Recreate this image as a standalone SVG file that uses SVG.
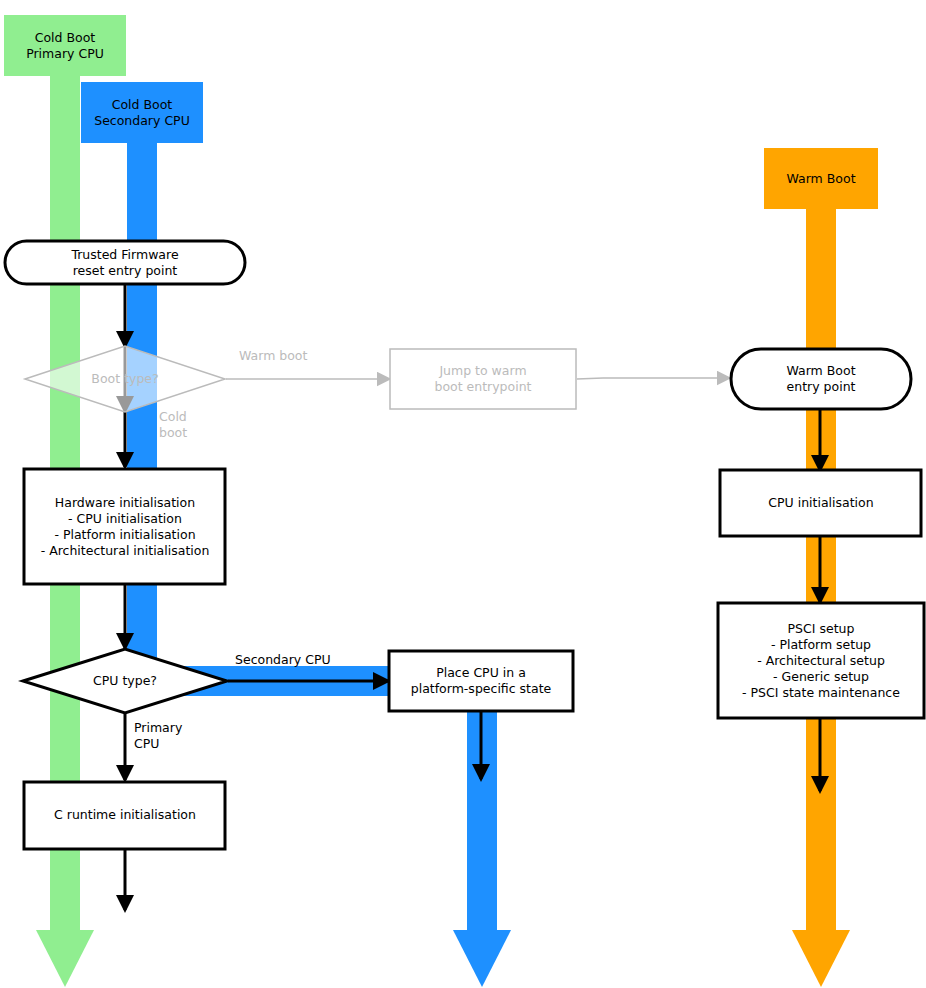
<svg xmlns="http://www.w3.org/2000/svg" width="926" height="988" viewBox="0 0 926 988">
<defs>
<marker id="ah" markerWidth="6" markerHeight="6" refX="5" refY="3" orient="auto" markerUnits="strokeWidth"><path d="M0,0 L6,3 L0,6 z" fill="#000"/></marker>
<marker id="ahg" markerWidth="10" markerHeight="10" refX="9" refY="5" orient="auto" markerUnits="strokeWidth"><path d="M0,0 L10,5 L0,10 z" fill="#bbb"/></marker>
<style>
text{font-family:"DejaVu Sans",sans-serif;font-size:12.5px;fill:#000;text-anchor:middle}
.g{fill:#bbb}
.l{text-anchor:start}
.b{fill:#fff;stroke:#000;stroke-width:3}
.gb{fill:#fff;stroke:#bbb;stroke-width:1.5}
.c{stroke:#000;stroke-width:3;fill:none;marker-end:url(#ah)}
</style>
</defs>
<g id="lanes">
<rect x="50" y="76" width="30" height="856" fill="#90ee90"/>
<polygon points="36,930 94,930 65,987" fill="#90ee90"/>
<rect x="4" y="15" width="122" height="61" fill="#90ee90"/>
<rect x="127" y="143" width="30" height="540" fill="#1e90ff"/>
<rect x="157" y="666" width="240" height="30" fill="#1e90ff"/>
<rect x="467" y="700" width="30" height="232" fill="#1e90ff"/>
<polygon points="453,930 511,930 482,987" fill="#1e90ff"/>
<rect x="81" y="82" width="122" height="61" fill="#1e90ff"/>
<rect x="806" y="209" width="30" height="723" fill="#ffa500"/>
<polygon points="792,930 850,930 821,987" fill="#ffa500"/>
<rect x="764" y="148" width="114" height="61" fill="#ffa500"/>
<text x="65" y="42">Cold Boot</text><text x="65" y="58">Primary CPU</text>
<text x="142" y="109">Cold Boot</text><text x="142" y="125">Secondary CPU</text>
<text x="821" y="183">Warm Boot</text>
</g>
<g id="connectors">
<line class="c" x1="125" y1="285" x2="125" y2="346"/>
<line class="c" x1="125" y1="346" x2="125" y2="411"/>
<line class="c" x1="125" y1="412" x2="125" y2="467"/>
<line x1="226" y1="379" x2="390" y2="379" stroke="#bbb" stroke-width="1.5" marker-end="url(#ahg)"/>
<polyline points="577,379 603,378 730,378" stroke="#bbb" stroke-width="1.5" fill="none" marker-end="url(#ahg)"/>
<line class="c" x1="125" y1="585" x2="125" y2="648"/>
<line class="c" x1="228" y1="681" x2="388" y2="681"/>
<line class="c" x1="125" y1="714" x2="125" y2="780"/>
<line class="c" x1="125" y1="850" x2="125" y2="910"/>
<line class="c" x1="481" y1="712" x2="481" y2="779"/>
<line class="c" x1="820" y1="410" x2="820" y2="470"/>
<line class="c" x1="820" y1="537" x2="820" y2="602"/>
<line class="c" x1="820" y1="719" x2="820" y2="791"/>
<text class="g l" x="239" y="360">Warm boot</text>
<text class="g l" x="159" y="421">Cold</text><text class="g l" x="159" y="437">boot</text>
<text class="l" x="235" y="664">Secondary CPU</text>
<text class="l" x="134" y="732">Primary</text><text class="l" x="134" y="748">CPU</text>
</g>
<g id="reset"><rect class="b" x="5" y="241" width="240" height="43" rx="21.5"/><text x="125" y="259">Trusted Firmware</text><text x="125" y="275">reset entry point</text></g>
<g id="boottype"><polygon class="gb" points="25,379 125,346 225,379 125,412" fill-opacity="0.6"/><text class="g" x="125" y="383">Boot type?</text></g>
<g id="jump"><rect class="gb" x="390" y="349" width="186" height="60"/><text class="g" x="483" y="375">Jump to warm</text><text class="g" x="483" y="391">boot entrypoint</text></g>
<g id="warmentry"><rect class="b" x="731" y="349" width="180" height="60" rx="30"/><text x="821" y="375">Warm Boot</text><text x="821" y="391">entry point</text></g>
<g id="hwinit"><rect class="b" x="24" y="469" width="201" height="115"/><text x="125" y="507">Hardware initialisation</text><text x="125" y="523">- CPU initialisation</text><text x="125" y="539">- Platform initialisation</text><text x="125" y="555">- Architectural initialisation</text></g>
<g id="cputype"><polygon class="b" points="23,681 125,649 227,681 125,713"/><text x="125" y="685">CPU type?</text></g>
<g id="place"><rect class="b" x="389" y="651" width="184" height="60"/><text x="481" y="677">Place CPU in a</text><text x="481" y="693">platform-specific state</text></g>
<g id="cruntime"><rect class="b" x="24" y="782" width="201" height="67"/><text x="125" y="819">C runtime initialisation</text></g>
<g id="cpuinit"><rect class="b" x="720" y="470" width="201" height="66"/><text x="821" y="507">CPU initialisation</text></g>
<g id="psci"><rect class="b" x="718" y="603" width="206" height="115"/><text x="821" y="633">PSCI setup</text><text x="821" y="649">- Platform setup</text><text x="821" y="665">- Architectural setup</text><text x="821" y="681">- Generic setup</text><text x="821" y="697">- PSCI state maintenance</text></g>
</svg>
